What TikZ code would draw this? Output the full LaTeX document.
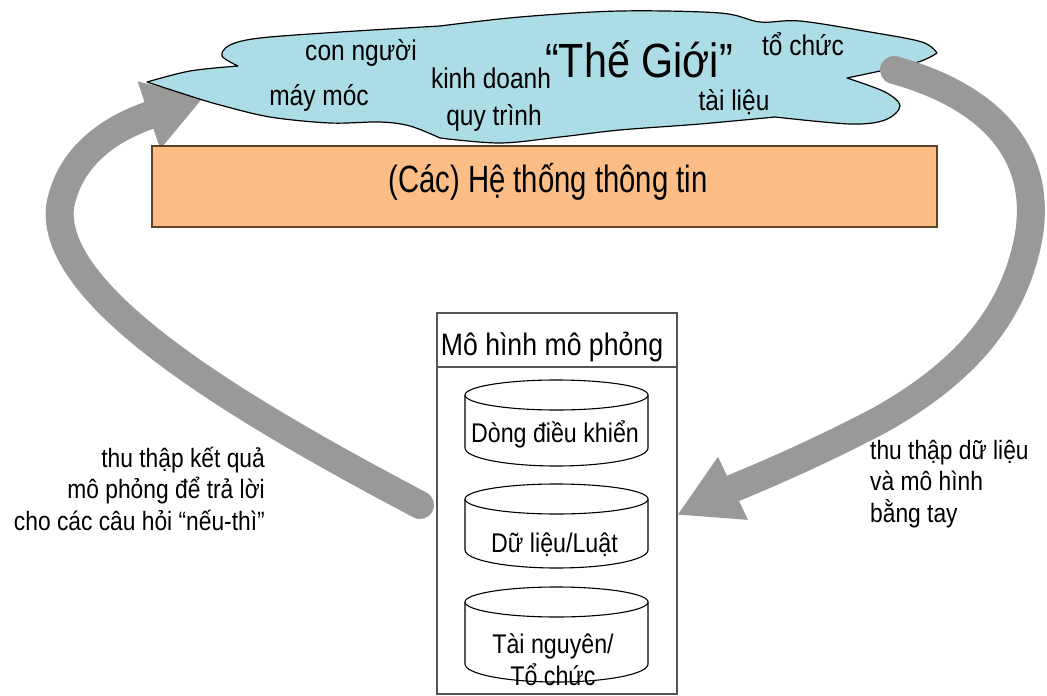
\documentclass[tikz,border=0pt]{standalone}
\usepackage{fontspec}
\setmainfont{Liberation Sans}[FakeStretch=0.86]
\newfontfamily\barfont{Liberation Sans}[FakeStretch=0.77]
\usetikzlibrary{arrows.meta}

\definecolor{cloudblue}{RGB}{172,220,230}
\definecolor{sysorange}{RGB}{252,190,134}
\definecolor{sysedge}{RGB}{95,65,35}
\definecolor{flowgray}{RGB}{153,153,153}
\definecolor{boxedge}{RGB}{85,85,85}

% fixed line pitch, no matter how tall the accents are
\newcommand{\fixedlead}{\setlength{\lineskiplimit}{-100pt}}

\tikzset{
  word/.style={inner sep=0pt, anchor=base, font=\fontsize{28.5}{30}\selectfont},
  store/.style={inner sep=0pt, anchor=base, font={\fontsize{27}{32}\selectfont\fixedlead}},
  lbl/.style={inner sep=0pt, font={\fontsize{26.5}{31.5}\selectfont\fixedlead}},
  flow/.style={flowgray, line width=28pt, line cap=round},
  cyl/.style={draw=black, line width=1.1pt, fill=white},
}

\begin{document}
\begin{tikzpicture}[x=1pt, y=-1pt]
\useasboundingbox (0,0) rectangle (1047,696);
\fill[white] (0,0) rectangle (1047,696);

% feedback arrow: simulation results back to the world (drawn under the cloud)
\coordinate (lt) at (420,505);
\coordinate (lh) at (204,97);
\draw[flow, -{Triangle[length=58pt,width=67pt]}]
  (lt) .. controls (250,415) and (50,300) .. (60,207)
       .. controls (70,150) and (120,125) .. (lh);

% the "world" cloud
\draw[fill=cloudblue, line width=1.2pt, line join=round]
  plot[smooth, tension=0.55] coordinates {(147,82) (190,71) (238,66)}
  -- plot[smooth, tension=0.55] coordinates {(238,66) (222,56) (230,45) (260,38) (340,32) (440,26)}
  -- plot[smooth, tension=0.55] coordinates {(440,26) (520,17) (620,11) (720,13) (760,22) (800,21) (870,32) (922,42) (937,53)}
  -- plot[smooth, tension=0.55] coordinates {(937,53) (915,63) (847,78)}
  -- plot[smooth, tension=0.55] coordinates {(847,78) (885,92) (900,106) (885,120) (850,124) (775,117)}
  -- plot[smooth, tension=0.55] coordinates {(775,117) (700,124) (620,130) (560,137) (500,143) (440,138)}
  -- plot[smooth, tension=0.55] coordinates {(440,138) (410,126) (380,122) (330,123) (270,117) (220,105) (190,96) (147,82)}
  -- cycle;

\node[word] (w1) at (361,60) {con người};
\node[word] (w2) at (319,105) {máy móc};
\node[word] (w3) at (491,88) {kinh doanh};
\node[inner sep=0pt, anchor=base, font=\fontsize{48}{50}\selectfont] (w4) at (639,77) {“Thế Giới”};
\node[word] (w5) at (803,55) {tổ chức};
\node[word] (w6) at (494,125) {quy trình};
\node[word] (w7) at (734,110) {tài liệu};

% information systems bar
\node[draw=sysedge, fill=sysorange, line width=1.2pt, minimum width=785pt,
      minimum height=81pt, inner sep=0pt] (is) at (544.5,186.5) {};
\node[inner sep=0pt, anchor=base, font=\barfont\fontsize{38}{40}\selectfont]
  (ist) at (548,192) {(Các) Hệ thống thông tin};

% simulation model container
\node[draw=boxedge, line width=1.2pt, minimum width=240pt, minimum height=381pt,
      inner sep=0pt] (mh) at (557,503.5) {};
\draw[boxedge, line width=1.2pt] (mh.west |- 0,367) -- (mh.east |- 0,367);
\node[inner sep=0pt, anchor=base, font=\fontsize{31}{33}\selectfont] (mt) at (552,355) {Mô hình mô phỏng};

% three data stores
\foreach \ty/\by in {395/448, 499/550, 602/664} {
  \draw[cyl] (465,\ty) -- (465,\by)
    arc[start angle=180, end angle=360, x radius=91.5pt, y radius=18pt] -- (648,\ty);
  \draw[cyl] (556.5,\ty) ellipse [x radius=91.5pt, y radius=15pt];
}
\node[store] (c1) at (555,442) {Dòng điều khiển};
\node[store] (c2) at (554.5,552) {Dữ liệu/Luật};
\node[store, align=center] (c3) at (553,685) {Tài nguyên/\\Tổ chức};

% data collection arrow: from the world into the model (drawn over the cloud)
\coordinate (rt) at (894,70);
\coordinate (rh) at (677,515);
\draw[flow, -{Triangle[length=62pt,width=65pt]}]
  (rt) .. controls (985,95) and (1045,150) .. (1028,240)
       .. controls (1012,320) and (960,375) .. (880,420)
       .. controls (800,462) and (740,485) .. (rh);

% arrow captions (base anchor sits on the last line)
\node[lbl, align=right, anchor=base east] (ql) at (265,530)
  {thu thập kết quả\\mô phỏng để trả lời\\cho các câu hỏi “nếu-thì”};
\node[lbl, align=left, anchor=base west] (qr) at (870,522)
  {thu thập dữ liệu\\và mô hình\\bằng tay};
\end{tikzpicture}
\end{document}
